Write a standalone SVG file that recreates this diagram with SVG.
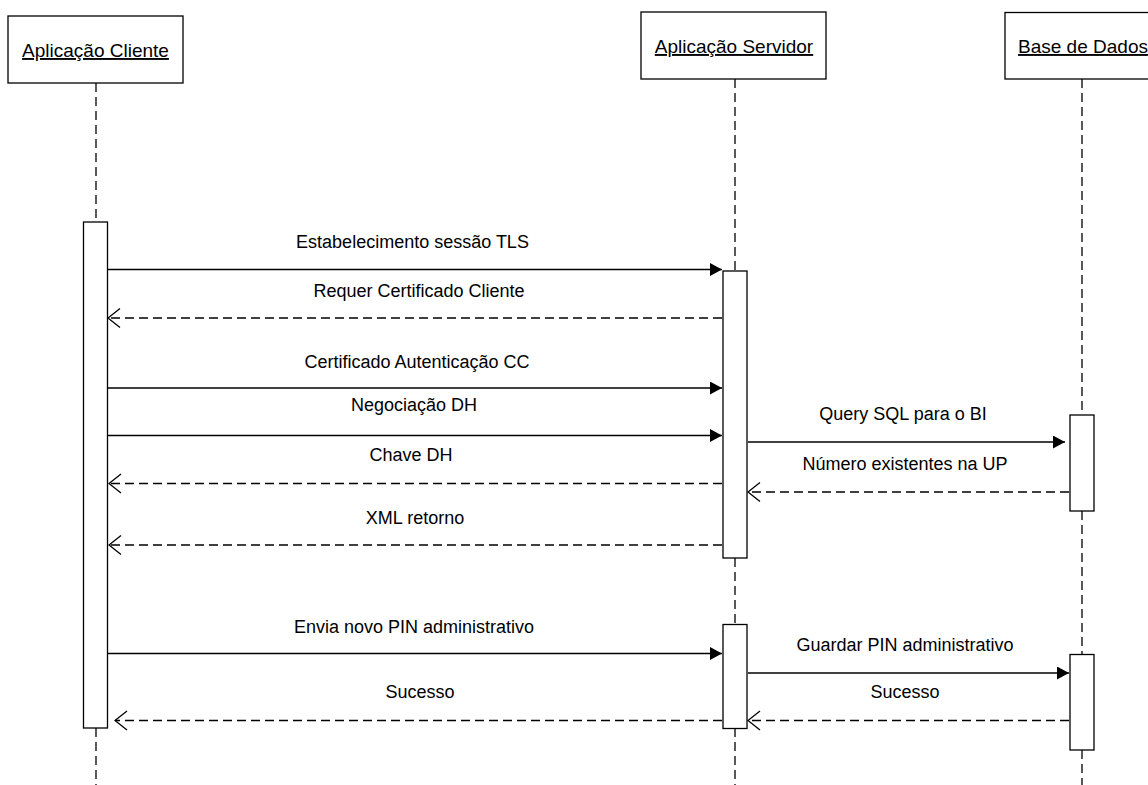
<svg xmlns="http://www.w3.org/2000/svg" width="1148" height="785" viewBox="0 0 1148 785">
<style>
  .box{fill:#fff;stroke:#000;stroke-width:1.3}
  .act{fill:#fff;stroke:#000;stroke-width:1.3}
  .life{stroke:#000;stroke-width:1.3;stroke-dasharray:9 5;fill:none}
  .msg{stroke:#000;stroke-width:1.3;fill:none}
  .ret{stroke:#000;stroke-width:1.3;fill:none;stroke-dasharray:9 5}
  .hdr{font-family:"Liberation Sans",Arial,sans-serif;font-size:19px;text-anchor:middle;text-decoration:underline;fill:#000}
  .lbl{font-family:"Liberation Sans",Arial,sans-serif;font-size:18px;text-anchor:middle;fill:#000}
</style>
<defs>
  <marker id="filled" markerUnits="userSpaceOnUse" markerWidth="14" markerHeight="14" refX="12" refY="6.5" orient="auto">
    <path d="M0,0 L12,6.5 L0,13 Z" fill="#000"/>
  </marker>
  <marker id="open" markerUnits="userSpaceOnUse" markerWidth="14" markerHeight="22" refX="12.5" refY="10" orient="auto">
    <path d="M0.5,0.5 L12.5,10 L0.5,19.5" fill="none" stroke="#000" stroke-width="1.3"/>
  </marker>
</defs>
<rect width="1148" height="785" fill="#fff"/>

<g id="lifelines">
  <path class="life" d="M96,83 V222 M96,728 V785"/>
  <path class="life" d="M735,79 V271 M735,558 V624 M735,728 V785"/>
  <path class="life" d="M1082,79 V415 M1082,511 V654 M1082,750 V785"/>
</g>

<g id="cliente">
  <rect class="box" x="8" y="16" width="175" height="67"/>
  <text class="hdr" x="95.5" y="57">Aplicação Cliente</text>
  <rect class="act" x="83.5" y="222" width="24" height="506"/>
</g>

<g id="servidor">
  <rect class="box" x="641" y="12" width="185" height="67"/>
  <text class="hdr" x="734" y="53">Aplicação Servidor</text>
  <rect class="act" x="723" y="271" width="24" height="287"/>
  <rect class="act" x="723" y="624.5" width="24" height="104"/>
</g>

<g id="basedados">
  <rect class="box" x="1005" y="12.5" width="154" height="66.5"/>
  <text class="hdr" x="1083" y="53">Base de Dados</text>
  <rect class="act" x="1070" y="415" width="24" height="96"/>
  <rect class="act" x="1070" y="654.5" width="24" height="95.5"/>
</g>

<g id="connectors">
  <line class="msg" x1="108" y1="269.5" x2="722" y2="269.5" marker-end="url(#filled)"/>
  <line class="ret" x1="722" y1="318" x2="108" y2="318" marker-end="url(#open)"/>
  <line class="msg" x1="108" y1="388" x2="722" y2="388" marker-end="url(#filled)"/>
  <line class="msg" x1="108" y1="435.5" x2="722" y2="435.5" marker-end="url(#filled)"/>
  <line class="msg" x1="748" y1="442" x2="1065" y2="442" marker-end="url(#filled)"/>
  <line class="ret" x1="722" y1="483.5" x2="109" y2="483.5" marker-end="url(#open)"/>
  <line class="ret" x1="1069" y1="492" x2="748" y2="492" marker-end="url(#open)"/>
  <line class="ret" x1="722" y1="545" x2="109" y2="545" marker-end="url(#open)"/>
  <line class="msg" x1="108" y1="653.5" x2="722" y2="653.5" marker-end="url(#filled)"/>
  <line class="msg" x1="748" y1="673" x2="1069" y2="673" marker-end="url(#filled)"/>
  <line class="ret" x1="1069" y1="720.5" x2="748" y2="720.5" marker-end="url(#open)"/>
  <line class="ret" x1="722" y1="720.5" x2="115" y2="720.5" marker-end="url(#open)"/>
</g>

<g id="labels">
  <text class="lbl" x="412.5" y="248">Estabelecimento sessão TLS</text>
  <text class="lbl" x="419" y="297">Requer Certificado Cliente</text>
  <text class="lbl" x="417" y="367.5">Certificado Autenticação CC</text>
  <text class="lbl" x="414" y="410.5">Negociação DH</text>
  <text class="lbl" x="903" y="420">Query SQL para o BI</text>
  <text class="lbl" x="411" y="461">Chave DH</text>
  <text class="lbl" x="905" y="470">Número existentes na UP</text>
  <text class="lbl" x="415" y="524">XML retorno</text>
  <text class="lbl" x="414" y="633">Envia novo PIN administrativo</text>
  <text class="lbl" x="905" y="651">Guardar PIN administrativo</text>
  <text class="lbl" x="420" y="698">Sucesso</text>
  <text class="lbl" x="905" y="698">Sucesso</text>
</g>
</svg>
